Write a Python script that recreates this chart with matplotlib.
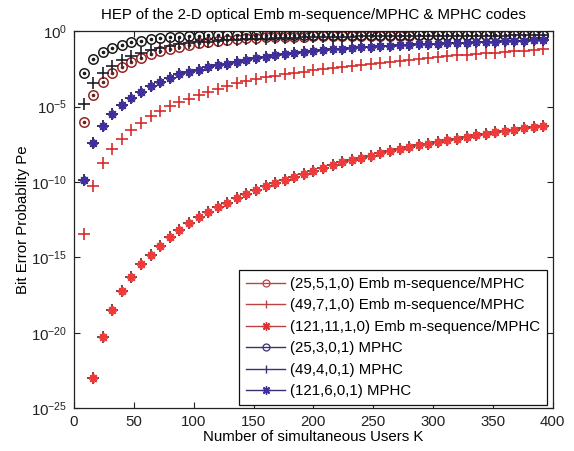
import numpy as np
import matplotlib
matplotlib.use('Agg')
import matplotlib.pyplot as plt
from matplotlib.lines import Line2D
from matplotlib.ticker import FixedLocator, FuncFormatter, NullLocator

plt.rcParams['font.family'] = ['Liberation Sans', 'DejaVu Sans']
plt.rcParams['mathtext.fontset'] = 'custom'
plt.rcParams['mathtext.rm'] = 'Liberation Sans'
plt.rcParams['mathtext.it'] = 'Liberation Sans:italic'
plt.rcParams['mathtext.bf'] = 'Liberation Sans:bold'

# ---------------- data ----------------
users = [8, 16, 24, 32, 40, 48, 56, 64, 72, 80, 88, 96, 104, 112, 120, 128,
         136, 144, 152, 160, 168, 176, 184, 192, 200, 208, 216, 224, 232, 240,
         248, 256, 264, 272, 280, 288, 296, 304, 312, 320, 328, 336, 344, 352,
         360, 368, 376, 384, 392]

# log10 of the bit error probability
log_pe_emb_25_5 = [-6.03, -4.22, -3.36, -2.81, -2.37, -2.03, -1.77, -1.52, -1.32, -1.18,
                   -1.05, -0.93, -0.82, -0.73, -0.65, -0.58, -0.52, -0.48, -0.45, -0.42,
                   -0.40, -0.38, -0.37, -0.36, -0.35, -0.34, -0.33, -0.33, -0.32, -0.32,
                   -0.31, -0.31, -0.30, -0.30, -0.30, -0.29, -0.29, -0.29, -0.29, -0.28,
                   -0.28, -0.28, -0.28, -0.28, -0.27, -0.27, -0.27, -0.27, -0.27]
log_pe_emb_49_7 = [-13.42, -10.24, -8.75, -7.83, -7.15, -6.53, -6.06, -5.66, -5.29, -4.96,
                   -4.67, -4.47, -4.26, -4.03, -3.85, -3.64, -3.47, -3.33, -3.20, -3.06,
                   -2.95, -2.86, -2.77, -2.69, -2.60, -2.52, -2.44, -2.37, -2.30, -2.23,
                   -2.16, -2.10, -2.05, -1.99, -1.93, -1.87, -1.79, -1.72, -1.66, -1.61,
                   -1.57, -1.52, -1.47, -1.42, -1.38, -1.33, -1.29, -1.24, -1.19]
log_pe_emb_121_11 = [np.nan, -23.0, -20.27, -18.5, -17.26, -16.29, -15.47, -14.83, -14.26, -13.68,
                     -13.2, -12.75, -12.35, -12.0, -11.68, -11.38, -11.07, -10.78, -10.52, -10.3,
                     -10.07, -9.86, -9.66, -9.45, -9.26, -9.07, -8.89, -8.71, -8.55, -8.41,
                     -8.26, -8.10, -7.96, -7.83, -7.71, -7.58, -7.46, -7.35, -7.24, -7.13,
                     -7.02, -6.92, -6.82, -6.72, -6.63, -6.53, -6.44, -6.35, -6.27]
log_pe_mphc_25_3 = [-2.75, -1.84, -1.37, -1.10, -0.90, -0.75, -0.63, -0.53, -0.46, -0.41,
                    -0.37, -0.33, -0.31, -0.29, -0.28, -0.27, -0.27, -0.26, -0.26, -0.26,
                    -0.26, -0.25, -0.25, -0.25, -0.25, -0.25, -0.25, -0.25, -0.25, -0.25,
                    -0.25, -0.25, -0.25, -0.25, -0.25, -0.25, -0.25, -0.25, -0.25, -0.25,
                    -0.25, -0.25, -0.25, -0.25, -0.25, -0.25, -0.25, -0.25, -0.25]
log_pe_mphc_49_4 = [-4.82, -3.47, -2.77, -2.31, -1.92, -1.66, -1.43, -1.26, -1.09, -0.97,
                    -0.86, -0.79, -0.75, -0.70, -0.66, -0.62, -0.58, -0.55, -0.52, -0.49,
                    -0.47, -0.45, -0.43, -0.41, -0.40, -0.39, -0.38, -0.37, -0.36, -0.35,
                    -0.35, -0.34, -0.34, -0.33, -0.33, -0.32, -0.32, -0.32, -0.31, -0.31,
                    -0.31, -0.30, -0.30, -0.30, -0.30, -0.29, -0.29, -0.29, -0.29]
log_pe_mphc_121_6 = [-9.90, -7.45, -6.29, -5.48, -4.91, -4.41, -4.02, -3.67, -3.38, -3.10,
                     -2.87, -2.72, -2.55, -2.40, -2.25, -2.15, -2.03, -1.90, -1.78, -1.70,
                     -1.61, -1.52, -1.45, -1.36, -1.30, -1.26, -1.20, -1.16, -1.12, -1.08,
                     -1.05, -1.00, -0.97, -0.94, -0.91, -0.88, -0.86, -0.83, -0.80, -0.78,
                     -0.76, -0.74, -0.72, -0.70, -0.68, -0.66, -0.64, -0.62, -0.60]

labels = ['(25,5,1,0) Emb m-sequence/MPHC',
          '(49,7,1,0) Emb m-sequence/MPHC',
          '(121,11,1,0) Emb m-sequence/MPHC',
          '(25,3,0,1) MPHC',
          '(49,4,0,1) MPHC',
          '(121,6,0,1) MPHC']

x_ticks = [0, 50, 100, 150, 200, 250, 300, 350, 400]
y_tick_exponents = [0, -5, -10, -15, -20, -25]

# ---------------- figure ----------------
fig = plt.figure(figsize=(5.74, 4.51), dpi=100)
ax = fig.add_axes([0.129, 0.095, 0.834, 0.836])
ax.set_yscale('log')

x = np.array(users)
def pe(v):
    return 10.0 ** np.array(v, dtype=float)

RED = '#d42c2c'
DRED = '#9a2424'
BLUE = '#3f2f9c'
LRED = '#b84444'
LBLUE = '#3a3070'
ASTER = (8, 2, 0)
FS = 10.8

# (25,5,1,0) red circles with center dot
ax.plot(x, pe(log_pe_emb_25_5), ls='none', marker='o', ms=6.8, mfc='none',
        mec=DRED, mew=1.1, zorder=3)
ax.plot(x, pe(log_pe_emb_25_5), ls='none', marker='.', ms=3.2, color='#5a2a2a', zorder=3)
# (49,7,1,0) red plus
ax.plot(x, pe(log_pe_emb_49_7), ls='none', marker='+', ms=8.5, mew=1.2, color=RED, zorder=3)
# (121,11,1,0) red asterisk
ax.plot(x, pe(log_pe_emb_121_11), ls='none', marker='+', ms=9, mew=1.3, color='#6a3a30', zorder=3)
ax.plot(x, pe(log_pe_emb_121_11), ls='none', marker=ASTER, ms=6.5, mew=1.3, color='#f03a3a', zorder=3)
# (25,3,0,1) black circles with center dot
ax.plot(x, pe(log_pe_mphc_25_3), ls='none', marker='o', ms=6.8, mfc='none',
        mec='#1a1a1a', mew=1.1, zorder=4)
ax.plot(x, pe(log_pe_mphc_25_3), ls='none', marker='.', ms=3.2, color='#1a1a1a', zorder=4)
# (49,4,0,1) black plus
ax.plot(x, pe(log_pe_mphc_49_4), ls='none', marker='+', ms=8.5, mew=1.2, color='#1e1e2a', zorder=4)
# (121,6,0,1) blue asterisk
ax.plot(x, pe(log_pe_mphc_121_6), ls='none', marker='+', ms=9, mew=1.3, color='#2a2440', zorder=4)
ax.plot(x, pe(log_pe_mphc_121_6), ls='none', marker=ASTER, ms=6.5, mew=1.3, color=BLUE, zorder=4)

ax.set_xlim(0, 400)
ax.set_ylim(1e-25, 1)
ax.xaxis.set_major_locator(FixedLocator(x_ticks))
ax.yaxis.set_major_locator(FixedLocator([10.0 ** e for e in y_tick_exponents]))
ax.yaxis.set_minor_locator(NullLocator())
ax.yaxis.set_major_formatter(FuncFormatter(
    lambda v, p: r'$\mathregular{10^{%d}}$' % int(round(np.log10(v)))))
ax.tick_params(direction='in', length=4, width=0.8, top=True, right=True,
               labelsize=FS, pad=5, colors='#222222')
for s in ax.spines.values():
    s.set_linewidth(0.9)
    s.set_color('#222222')

ax.set_xlabel('Number of simultaneous Users K', fontsize=FS, labelpad=1)
ax.set_ylabel('Bit Error Probablity Pe', fontsize=FS)
ax.yaxis.set_label_coords(-0.092, 0.5)
ax.set_title('HEP of the 2-D optical Emb m-sequence/MPHC & MPHC codes', fontsize=FS, pad=9)

handles = [
    Line2D([], [], color=LRED, lw=1.0, marker='o', ms=5, mfc='none', mec=LRED, mew=0.9),
    Line2D([], [], color=LRED, lw=1.0, marker='|', ms=6, mec=LRED, mew=1.0),
    Line2D([], [], color=LRED, lw=1.0, marker=ASTER, ms=6, mec='#e03030', mew=1.0),
    Line2D([], [], color=LBLUE, lw=1.0, marker='o', ms=5, mfc='none', mec=LBLUE, mew=0.9),
    Line2D([], [], color=LBLUE, lw=1.0, marker='|', ms=6, mec=LBLUE, mew=1.0),
    Line2D([], [], color=LBLUE, lw=1.0, marker=ASTER, ms=6, mec=BLUE, mew=1.0),
]
leg = ax.legend(handles, labels, loc='lower right', bbox_to_anchor=(0.988, 0.008),
                borderaxespad=0, fontsize=FS, frameon=True, fancybox=False,
                edgecolor='#111111', framealpha=1, handlelength=2.6, handletextpad=0.35,
                labelspacing=0.5, borderpad=0.45)
leg.get_frame().set_linewidth(0.9)

fig.savefig('out.png', dpi=100)
